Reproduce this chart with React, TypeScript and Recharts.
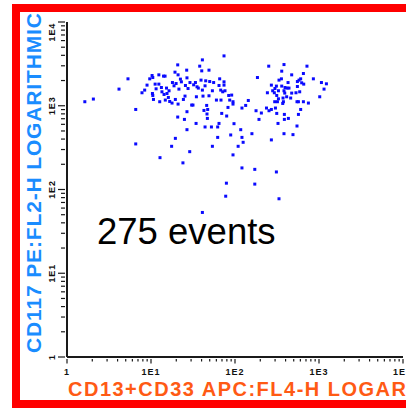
import { ScatterChart, Scatter, XAxis, YAxis } from 'recharts';

// CD13+CD33 APC (FL4-H), one value per event
const cd13Values = [
  1.63, 2.06, 4.16, 5.32, 6.58, 6.58, 7.81, 8.41, 8.97, 9.66,
  10.3, 10.5, 10.4, 10.5, 10.7, 11.2, 11.5, 12.4, 12.4, 12.7,
  12.8, 13.3, 13.5, 14.1, 14.7, 14.3, 14.8, 15.3, 15.5, 16.1,
  16.4, 16.7, 17.6, 17.8, 18.0, 18.8, 19.5, 19.3, 19.9, 20.8,
  21.0, 20.8, 21.0, 19.5, 21.5, 22.4, 23.0, 24.0, 24.3, 25.0,
  25.4, 25.7, 26.6, 26.8, 26.8, 26.8, 27.6, 28.9, 29.1, 30.5,
  31.6, 32.2, 33.8, 34.4, 34.7, 35.3, 36.6, 38.0, 39.4, 40.2,
  40.9, 40.9, 41.6, 42.7, 44.0, 44.0, 44.8, 46.0, 46.4, 47.3,
  46.9, 49.0, 49.0, 50.0, 52.4, 53.8, 53.8, 55.7, 60.1, 62.2,
  62.2, 64.5, 64.5, 65.7, 67.6, 68.1, 69.5, 71.4, 74.0, 74.0,
  74.0, 76.0, 77.5, 79.0, 79.6, 82.5, 84.1, 88.9, 91.3, 94.7,
  94.7, 97.3, 109, 117, 121, 121, 125, 121, 134, 144,
  159, 172, 172, 178, 185, 193,
  252, 383, 719, 360, 652, 473, 357, 334, 605, 857,
  578, 553, 428, 622, 658, 1069, 1225, 271, 311, 360,
  394, 416, 439, 553, 299, 1148, 281, 329, 383, 243,
  294, 391, 473, 532, 589, 314, 412, 460, 373, 1020,
  329, 297, 320, 377, 370, 547, 569, 652, 748, 206,
  237, 254, 271, 303, 314, 387, 605, 569, 387, 432,
  325, 547, 383, 490, 271, 311, 334, 94.7, 86.5, 40.9,
];

// CD117 PE (FL2-H), same order
const cd117Values = [
  1117, 1202, 1580, 2096, 903, 350, 1429, 1538, 1763, 2096,
  2296, 2173, 1400, 1327, 1189, 1812, 1593, 2339, 1812, 1117,
  240, 1651, 1468, 2258, 2258, 1364, 1169, 1625, 1400, 1256,
  1510, 1125, 328, 1077, 1893, 1730, 1189, 2518, 1842, 3076,
  2339, 733, 1047, 408, 1580, 2080, 1930, 208, 1189, 687,
  1304, 1746, 2661, 2154, 849, 518, 1606, 283, 1893, 1019,
  1019, 1778, 1893, 615, 1280, 1684, 1625, 2970, 2023, 2610,
  3530, 1538, 1304, 879, 1730, 558, 1985, 1009, 797, 903,
  706, 2661, 1315, 1946, 558, 1510, 328, 1893, 1169, 419,
  558, 615, 1746, 2096, 1538, 1169, 810, 1468, 1930, 3938,
  1763, 1510, 83.2, 119, 754, 955, 1327, 448, 1341, 1117,
  259, 611, 328, 518, 939, 419, 366, 181, 1009, 1156,
  464, 174, 116, 872, 2173, 687,
  2970, 3103, 2970, 2588, 2426, 2339, 2096, 2023, 2096, 2096,
  2023, 1946, 1893, 1879, 1812, 1893, 1828, 1763, 1717, 1717,
  1651, 1625, 1625, 1698, 1606, 1580, 1510, 1510, 1510, 1429,
  1429, 1416, 1416, 1429, 1468, 1327, 1280, 1236, 1236, 1280,
  1211, 1117, 1117, 1117, 1065, 1117, 1117, 1117, 1077, 819,
  939, 872, 903, 939, 810, 788, 903, 788, 687, 706,
  615, 573, 464, 452, 391, 162, 77.5, 1047, 1169, 53.2,
];

const decades = [1, 10, 100, 1000, 10000];
const decadeLabels = ['1', '1E1', '1E2', '1E3', '1E4'];
const minorSteps = [2, 3, 4, 5, 6, 7, 8, 9];

const logTicks: number[] = [];
decades.forEach((d, i) => {
  logTicks.push(d);
  if (i < decades.length - 1) minorSteps.forEach((m) => logTicks.push(d * m));
});

const events = cd13Values.map((x, i) => ({ x, y: cd117Values[i] }));

const FONT = 'Arial, "Liberation Sans", sans-serif';
const AXIS = '#1a1a1a';

function XTick(props: any) {
  const { x, y, payload } = props;
  const idx = decades.indexOf(payload.value);
  const major = idx >= 0;
  // the last decade label sits at the right edge and is cut off, as in the source
  const label = idx === decades.length - 1 ? '1E' : decadeLabels[idx];
  return (
    <g>
      <line x1={x} x2={x} y1={y} y2={y + (major ? 4.5 : 2.5)} stroke={AXIS} strokeWidth={1.2} />
      {major && (
        <text x={idx === decades.length - 1 ? x - 10 : x} y={y + 16}
          textAnchor={idx === decades.length - 1 ? 'start' : 'middle'} fontFamily={FONT} fontWeight="bold"
          fontSize={9} letterSpacing={1} fill="#111">
          {label}
        </text>
      )}
    </g>
  );
}

function YTick(props: any) {
  const { x, y, payload } = props;
  const idx = decades.indexOf(payload.value);
  const major = idx >= 0;
  const top = idx === decades.length - 1;
  const ly = top ? y + 1 : y;
  return (
    <g>
      <line x1={x - (major ? 7 : 4)} x2={x} y1={y} y2={y} stroke={AXIS} strokeWidth={1.2} />
      {major && (
        <text x={55} y={ly} transform={`rotate(-90, 55, ${ly})`}
          textAnchor={top ? 'end' : 'middle'} fontFamily={FONT} fontWeight="bold"
          fontSize={9} letterSpacing={0.8} fill="#111">
          {decadeLabels[idx]}
        </text>
      )}
    </g>
  );
}

function EventDot(props: any) {
  const { cx, cy } = props;
  if (cx == null || cy == null) return <g />;
  return <rect x={cx - 1.5} y={cy - 1.5} width={3} height={3} fill="#0a0aff" />;
}

export default function App() {
  return (
    <div style={{ position: 'absolute', left: 0, top: 0, width: 406, height: 408, background: '#fff', overflow: 'hidden' }}>
      <ScatterChart width={406} height={408} margin={{ top: 22, right: 3, bottom: 50, left: 66 }}>
        <XAxis dataKey="x" type="number" scale="log" domain={[1, 10000]} allowDataOverflow
          ticks={logTicks} interval={0} height={1} tickSize={0} tickLine={false}
          axisLine={{ stroke: AXIS, strokeWidth: 2 }} tick={XTick} />
        <YAxis dataKey="y" type="number" scale="log" domain={[1, 10000]} allowDataOverflow
          ticks={logTicks} interval={0} width={1} tickSize={0} tickLine={false}
          axisLine={{ stroke: AXIS, strokeWidth: 2 }} tick={YTick} />
        <Scatter data={events} shape={EventDot} isAnimationActive={false} />
      </ScatterChart>
      <svg width={406} height={408} style={{ position: 'absolute', left: 0, top: 0, pointerEvents: 'none' }}>
        <text x={41} y={353} transform="rotate(-90, 41, 353)" fontFamily={FONT} fontWeight="bold"
          fontSize={21} fill="#1a8cff" textLength={340} lengthAdjust="spacing">
          CD117 PE:FL2-H LOGARITHMIC
        </text>
        <text x={68} y={396} fontFamily={FONT} fontWeight="bold" fontSize={20} fill="#ff5a14"
          textLength={338} lengthAdjust="spacing">
          CD13+CD33 APC:FL4-H LOGAR
        </text>
        <text x={97} y={244} fontFamily={FONT} fontSize={36.5} fill="#000">
          275 events
        </text>
      </svg>
      <div style={{ position: 'absolute', left: 12, top: 4, width: 420, height: 404, boxSizing: 'border-box',
        borderLeft: '8px solid #ff0000', borderTop: '8px solid #ff0000', borderBottom: '8px solid #ff0000' }} />
    </div>
  );
}
